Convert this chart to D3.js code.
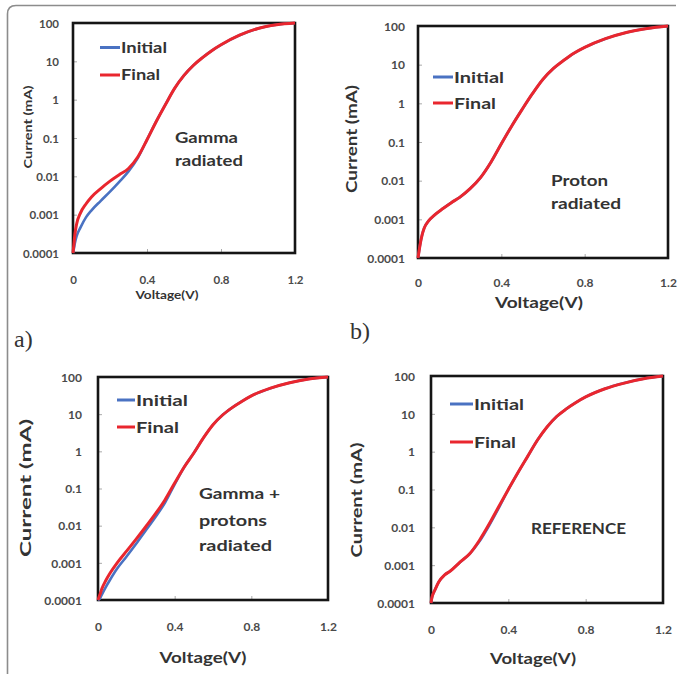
<!DOCTYPE html>
<html><head><meta charset="utf-8">
<script src="https://cdn.jsdelivr.net/npm/d3@7"></script>
<style>body{margin:0;background:#fff;} svg{display:block;}</style>
</head><body>
<svg id="chart" width="678" height="674"></svg>
<script>
// ---------- data ----------
const yTicks = [0.0001, 0.001, 0.01, 0.1, 1, 10, 100];
const yTickLabels = ["0.0001", "0.001", "0.01", "0.1", "1", "10", "100"];
const xTicks = [0, 0.4, 0.8, 1.2];
const xTickLabels = ["0", "0.4", "0.8", "1.2"];
const seriesNames = ["Initial", "Final"];
const xTitle = "Voltage(V)";
const yTitle = "Current (mA)";

// a) Gamma radiated
const gammaV       = [0, 0.005, 0.01, 0.02, 0.04, 0.07, 0.1, 0.15, 0.2, 0.25, 0.3, 0.35, 0.4, 0.45, 0.5, 0.55, 0.6, 0.65, 0.7, 0.75, 0.8, 0.9, 1.0, 1.1, 1.2];
const gammaInitial = [0.0001, 0.00013, 0.00018, 0.00028, 0.00046, 0.00085, 0.0013, 0.0023, 0.004, 0.0072, 0.0135, 0.03, 0.09, 0.27, 0.75, 2, 4.3, 7.8, 12.5, 19, 27, 48, 72, 90, 100];
const gammaFinal   = [0.0001, 0.00017, 0.0003, 0.00058, 0.0011, 0.0019, 0.0029, 0.0048, 0.0075, 0.011, 0.016, 0.032, 0.09, 0.27, 0.75, 2, 4.3, 7.8, 12.5, 19, 27, 48, 72, 90, 100];

// b) Proton radiated
const protonV       = [0, 0.005, 0.01, 0.02, 0.03, 0.05, 0.08, 0.12, 0.16, 0.2, 0.25, 0.3, 0.35, 0.4, 0.45, 0.5, 0.55, 0.6, 0.65, 0.7, 0.75, 0.8, 0.9, 1.0, 1.1, 1.2];
const protonInitial = [0.0001, 0.00015, 0.00022, 0.0004, 0.0006, 0.0009, 0.0013, 0.0019, 0.0027, 0.0037, 0.0062, 0.012, 0.03, 0.09, 0.26, 0.7, 1.8, 4.2, 8, 13, 20, 28, 47, 68, 86, 100];
const protonFinal   = [0.0001, 0.00015, 0.00022, 0.0004, 0.0006, 0.0009, 0.0013, 0.0019, 0.0027, 0.0037, 0.0062, 0.012, 0.03, 0.09, 0.26, 0.7, 1.8, 4.2, 8, 13, 20, 28, 47, 68, 86, 100];

// c) Gamma + protons radiated
const gpV       = [0, 0.01, 0.02, 0.04, 0.06, 0.1, 0.15, 0.2, 0.25, 0.3, 0.35, 0.4, 0.45, 0.5, 0.55, 0.6, 0.65, 0.7, 0.75, 0.8, 0.9, 1.0, 1.1, 1.2];
const gpInitial = [0.0001, 0.00011, 0.00014, 0.00022, 0.00033, 0.0007, 0.0015, 0.0033, 0.0075, 0.017, 0.042, 0.13, 0.38, 0.9, 2.3, 5.2, 9.5, 15, 22, 31, 50, 70, 88, 100];
const gpFinal   = [0.0001, 0.00014, 0.0002, 0.00033, 0.0005, 0.001, 0.0021, 0.0044, 0.0095, 0.021, 0.05, 0.14, 0.38, 0.9, 2.3, 5.2, 9.5, 15, 22, 31, 50, 70, 88, 100];

// d) Reference
const refV       = [0, 0.005, 0.01, 0.02, 0.04, 0.07, 0.1, 0.15, 0.2, 0.25, 0.3, 0.35, 0.4, 0.45, 0.5, 0.55, 0.6, 0.65, 0.7, 0.75, 0.8, 0.9, 1.0, 1.1, 1.2];
const refInitial = [0.0001, 0.00014, 0.00017, 0.00022, 0.00036, 0.00055, 0.0007, 0.0012, 0.002, 0.0042, 0.011, 0.032, 0.1, 0.28, 0.75, 2, 4.5, 8.5, 13.5, 20, 28, 46, 65, 85, 100];
const refFinal   = [0.0001, 0.00014, 0.00017, 0.00022, 0.00036, 0.00055, 0.0007, 0.0012, 0.002, 0.0045, 0.012, 0.035, 0.1, 0.28, 0.75, 2, 4.5, 8.5, 13.5, 20, 28, 46, 65, 85, 100];

const notes = [["Gamma", "radiated"], ["Proton", "radiated"], ["Gamma +", "protons", "radiated"], ["REFERENCE"]];
const panelTags = ["a)", "b)"];

// ---------- layout ----------
const panels = [
  { V: gammaV, init: gammaInitial, fin: gammaFinal, note: notes[0],
    left: 73, right: 295, top: 23, bottom: 253, tickFont: 11.5, yTickX: 59, xTickY: 280,
    xt: {x: 167, y: 295, size: 12, len: 63}, yt: {x: 28, y: 127, size: 12, len: 83},
    leg: {x1: 100, x2: 120, ys: [47.5, 75], size: 15.5, lens: [46, 39]},
    nt: {x: 175, ys: [138, 161], size: 15.5, lens: [63, 68]} },
  { V: protonV, init: protonInitial, fin: protonFinal, note: notes[1],
    left: 418, right: 668, top: 26, bottom: 258, tickFont: 12, yTickX: 405, xTickY: 283,
    xt: {x: 539, y: 302, size: 16, len: 88}, yt: {x: 351, y: 139, size: 16, len: 108},
    leg: {x1: 433, x2: 453, ys: [77, 103], size: 16, lens: [50, 42]},
    nt: {x: 551, ys: [180, 203], size: 16, lens: [57, 70]} },
  { V: gpV, init: gpInitial, fin: gpFinal, note: notes[2],
    left: 98, right: 328, top: 377, bottom: 600, tickFont: 12, yTickX: 82, xTickY: 627,
    xt: {x: 203, y: 657, size: 16, len: 87}, yt: {x: 25, y: 488, size: 16, len: 138},
    leg: {x1: 117, x2: 135, ys: [400, 427], size: 16, lens: [52, 43]},
    nt: {x: 199, ys: [493, 520, 545], size: 16, lens: [81, 68, 73]} },
  { V: refV, init: refInitial, fin: refFinal, note: notes[3],
    left: 431, right: 663, top: 376, bottom: 603, tickFont: 12, yTickX: 415, xTickY: 630,
    xt: {x: 533, y: 658, size: 16, len: 86}, yt: {x: 356, y: 500, size: 16, len: 115},
    leg: {x1: 450, x2: 473, ys: [404, 442], size: 16, lens: [50, 42]},
    nt: {x: 531, ys: [529], size: 15, lens: [95]} }
];
const tagPos = [{x: 14, y: 347}, {x: 350, y: 339}];

const BLUE = "#4a72c2", RED = "#e9262e", TXT = "#333";
const FONT = "Lato, 'Open Sans', sans-serif";

const svg = d3.select("#chart");

// outer frame (top and left edges with rounded corner)
svg.append("path")
  .attr("d", "M7.5,674 L7.5,14 Q7.5,5.5 16,5.5 L676,5.5")
  .attr("fill", "none").attr("stroke", "#8c8c8c").attr("stroke-width", 1.6);

function drawPanel(p) {
  const x = d3.scaleLinear().domain([0, 1.2]).range([p.left, p.right]);
  const y = d3.scaleLog().domain([0.0001, 100]).range([p.bottom, p.top]);
  const g = svg.append("g");

  const yAxis = d3.axisLeft(y).tickValues(yTicks)
    .tickFormat((d, i) => yTickLabels[i]).tickSizeInner(-4).tickSizeOuter(0)
    .tickPadding(p.left - p.yTickX);
  const ya = g.append("g").attr("transform", `translate(${p.left},0)`).call(yAxis);
  ya.select(".domain").remove();
  ya.selectAll(".tick line").attr("stroke", "#aaa").attr("stroke-width", 1);
  ya.selectAll(".tick text").attr("font-family", FONT).attr("font-weight", 700)
    .attr("font-size", p.tickFont).attr("fill", "#4a4a4a").attr("dy", "0.35em");

  const xAxis = d3.axisBottom(x).tickValues(xTicks)
    .tickFormat((d, i) => xTickLabels[i]).tickSizeInner(-4).tickSizeOuter(0);
  const xa = g.append("g").attr("transform", `translate(0,${p.bottom})`).call(xAxis);
  xa.select(".domain").remove();
  xa.selectAll(".tick line").attr("stroke", "#aaa").attr("stroke-width", 1);
  xa.selectAll(".tick text").attr("font-family", FONT).attr("font-weight", 700)
    .attr("font-size", p.tickFont).attr("fill", "#4a4a4a")
    .attr("y", p.xTickY - p.bottom).attr("dy", "0.35em");

  // plot box
  g.append("rect").attr("x", p.left).attr("y", p.top)
    .attr("width", p.right - p.left).attr("height", p.bottom - p.top)
    .attr("fill", "none").attr("stroke", "#151515").attr("stroke-width", 2.6);

  const line = d3.line().x(d => x(d[0])).y(d => y(d[1])).curve(d3.curveMonotoneX);
  g.append("path").datum(d3.zip(p.V, p.init)).attr("d", line)
    .attr("fill", "none").attr("stroke", BLUE).attr("stroke-width", 2.6);
  g.append("path").datum(d3.zip(p.V, p.fin)).attr("d", line)
    .attr("fill", "none").attr("stroke", RED).attr("stroke-width", 3);

  // legend
  [BLUE, RED].forEach((c, i) => {
    g.append("line").attr("x1", p.leg.x1).attr("x2", p.leg.x2)
      .attr("y1", p.leg.ys[i]).attr("y2", p.leg.ys[i])
      .attr("stroke", c).attr("stroke-width", 3);
    g.append("text").attr("x", p.leg.x2 + 1).attr("y", p.leg.ys[i]).attr("dy", "0.35em")
      .attr("font-family", FONT).attr("font-weight", 700).attr("font-size", p.leg.size)
      .attr("fill", TXT).attr("textLength", p.leg.lens[i]).attr("lengthAdjust", "spacingAndGlyphs")
      .text(seriesNames[i]);
  });

  // annotation
  p.note.forEach((t, i) => {
    g.append("text").attr("x", p.nt.x).attr("y", p.nt.ys[i]).attr("dy", "0.35em")
      .attr("font-family", FONT).attr("font-weight", 700).attr("font-size", p.nt.size)
      .attr("fill", TXT).attr("textLength", p.nt.lens[i]).attr("lengthAdjust", "spacingAndGlyphs")
      .text(t);
  });

  // axis titles
  g.append("text").attr("x", p.xt.x).attr("y", p.xt.y).attr("dy", "0.35em")
    .attr("text-anchor", "middle").attr("font-family", FONT).attr("font-weight", 700)
    .attr("font-size", p.xt.size).attr("fill", TXT)
    .attr("textLength", p.xt.len).attr("lengthAdjust", "spacingAndGlyphs").text(xTitle);
  g.append("text").attr("transform", `translate(${p.yt.x},${p.yt.y}) rotate(-90)`)
    .attr("dy", "0.35em").attr("text-anchor", "middle").attr("font-family", FONT)
    .attr("font-weight", 700).attr("font-size", p.yt.size).attr("fill", TXT)
    .attr("textLength", p.yt.len).attr("lengthAdjust", "spacingAndGlyphs").text(yTitle);
}

panels.forEach(drawPanel);

panelTags.forEach((t, i) => {
  svg.append("text").attr("x", tagPos[i].x).attr("y", tagPos[i].y)
    .attr("font-family", "'Liberation Serif', 'DejaVu Serif', serif")
    .attr("font-size", 24).attr("fill", TXT).text(t);
});
</script>
</body></html>
